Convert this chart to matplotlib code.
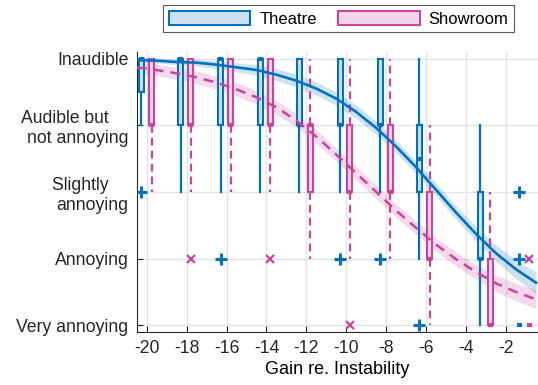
import matplotlib.pyplot as plt
from matplotlib.patches import Patch

plt.rcParams['font.family'] = ['Liberation Sans', 'DejaVu Sans']
plt.rcParams['axes.unicode_minus'] = False

# rating scale (5 = inaudible ... 1 = very annoying)
levels = [5, 4, 3, 2, 1]
level_labels = ['Inaudible', 'Audible but    \nnot annoying', 'Slightly    \nannoying',
                'Annoying', 'Very annoying']
gain_ticks = [-20, -18, -16, -14, -12, -10, -8, -6, -4, -2]

# boxplot summaries, theatre
theatre_pos = [-20.27, -18.3, -16.3, -14.3, -12.35, -10.3, -8.3, -6.35, -3.3, -1.35]
theatre_q1 = [4.5, 4, 4, 4, 4, 4, 4, 3, 2, 1]
theatre_med = [5, 5, 5, 5, 4, 4, 4, 3.5, 2, 1]
theatre_q3 = [5, 5, 5, 5, 5, 5, 5, 4, 3, 1]
theatre_lo = [4, 3, 3, 3, 3, 3, 3, 2, 1, 1]
theatre_hi = [5, 5, 5, 5, 5, 5, 5, 5, 4, 1]
theatre_out = [[3], [], [2], [], [], [2], [2], [1], [], [3, 2]]

# boxplot summaries, showroom
showroom_pos = [-19.75, -17.8, -15.8, -13.8, -11.8, -9.83, -7.8, -5.83, -2.8, -0.83]
showroom_q1 = [4, 4, 4, 4, 3, 3, 3, 2, 1, 1]
showroom_med = [4, 4, 4, 4, 4, 3, 3, 2, 1, 1]
showroom_q3 = [5, 5, 5, 5, 4, 4, 4, 3, 2, 1]
showroom_lo = [3, 3, 3, 3, 2, 2, 2, 1, 1, 1]
showroom_hi = [5, 5, 5, 5, 5, 5, 5, 4, 3, 1]
showroom_out = [[], [2], [], [2], [], [1], [], [], [], [2]]

# fitted curves with confidence band half-widths
fit_x = [-20.5, -19.5, -18.5, -17.5, -16.5, -15.5, -14.5, -13.5, -12.5, -11.5, -10.5,
         -9.5, -8.5, -7.5, -6.5, -5.5, -4.5, -3.5, -2.5, -1.5, -0.5]
theatre_fit = [4.98, 4.97, 4.95, 4.94, 4.91, 4.87, 4.83, 4.76, 4.67, 4.55, 4.40,
               4.20, 3.96, 3.68, 3.37, 3.03, 2.69, 2.37, 2.08, 1.84, 1.64]
theatre_ci = [0.03, 0.035, 0.04, 0.05, 0.06, 0.07, 0.08, 0.09, 0.095, 0.1, 0.1,
              0.1, 0.1, 0.095, 0.095, 0.095, 0.1, 0.11, 0.12, 0.14, 0.16]
showroom_fit = [4.87, 4.83, 4.78, 4.72, 4.64, 4.54, 4.42, 4.27, 4.07, 3.83, 3.56,
                3.28, 3.00, 2.72, 2.46, 2.21, 1.99, 1.80, 1.63, 1.50, 1.39]
showroom_ci = [0.08, 0.085, 0.09, 0.095, 0.1, 0.1, 0.1, 0.1, 0.1, 0.1, 0.1,
               0.1, 0.1, 0.1, 0.1, 0.1, 0.105, 0.11, 0.12, 0.13, 0.14]

blue = '#0072BD'
blue_light = '#CCE1F1'
pink = '#C9449C'
pink_light = '#F1D5E8'


def box_stats(q1, med, q3, lo, hi, out):
    return [dict(q1=a, med=b, q3=c, whislo=d, whishi=e, fliers=f)
            for a, b, c, d, e, f in zip(q1, med, q3, lo, hi, out)]


fig = plt.figure(figsize=(5.38, 3.85), dpi=100)
ax = fig.add_axes([136.7 / 538, 1 - 332 / 385, 1 - 136.7 / 538, 280 / 385])

# confidence bands
ax.fill_between(fit_x, [f - c for f, c in zip(theatre_fit, theatre_ci)],
                [f + c for f, c in zip(theatre_fit, theatre_ci)],
                color=blue, alpha=0.2, lw=0, zorder=1)
ax.fill_between(fit_x, [f - c for f, c in zip(showroom_fit, showroom_ci)],
                [f + c for f, c in zip(showroom_fit, showroom_ci)],
                color=pink, alpha=0.2, lw=0, zorder=1)

# boxes
for pos, stats, col, light, ls, mk, ms, mew in [
        (theatre_pos, box_stats(theatre_q1, theatre_med, theatre_q3, theatre_lo,
                                theatre_hi, theatre_out), blue, blue_light, '-', '+', 8.5, 2.2),
        (showroom_pos, box_stats(showroom_q1, showroom_med, showroom_q3, showroom_lo,
                                 showroom_hi, showroom_out), pink, pink_light,
         (0, (3.5, 2.3)), 'x', 6, 1.6)]:
    ax.bxp(stats, positions=pos, widths=0.25, patch_artist=True, showcaps=False,
           manage_ticks=False, zorder=3,
           boxprops=dict(facecolor=light, edgecolor=col, lw=1.5),
           medianprops=dict(color=col, lw=3, solid_capstyle='butt'),
           whiskerprops=dict(color=col, lw=1.6, ls=ls),
           flierprops=dict(marker=mk, markeredgecolor=col, markersize=ms,
                           markeredgewidth=mew, ls='none'))

# fitted curves
ax.plot(fit_x, theatre_fit, color=blue, lw=1.9, zorder=4)
ax.plot(fit_x, showroom_fit, color=pink, lw=1.8, ls=(0, (4, 2.8)), zorder=4)

ax.set_xlim(-20.5, -0.4)
ax.set_ylim(0.9, 5.1)
ax.set_xticks(gain_ticks)
ax.set_yticks(levels)
ax.set_yticklabels(level_labels, fontsize=12.7, multialignment='right')
ax.tick_params(axis='x', labelsize=12.7, pad=5)
ax.tick_params(direction='in', length=4, width=0.8, colors='#262626', pad=6)
ax.set_xlabel('Gain re. Instability', fontsize=13, labelpad=3)
ax.grid(True, color='#E3E3E3', lw=1)
ax.set_axisbelow(True)
for s in ['top', 'right']:
    ax.spines[s].set_visible(False)
for s in ['left', 'bottom']:
    ax.spines[s].set_color('#262626')
    ax.spines[s].set_linewidth(0.8)

handles = [Patch(facecolor=blue_light, edgecolor=blue, lw=1.5, label='Theatre'),
           Patch(facecolor=pink_light, edgecolor=pink, lw=1.5, label='Showroom')]
leg = fig.legend(handles=handles, loc='upper right', bbox_to_anchor=(514 / 538, 1 - 5 / 385),
                 ncol=2, fontsize=12, fancybox=False, framealpha=1, edgecolor='#5A5A5A',
                 handlelength=4.9, handleheight=1.0, columnspacing=1.26,
                 borderpad=0.33, borderaxespad=0, handletextpad=0.54)
leg.get_frame().set_linewidth(0.8)

fig.savefig('out.png', dpi=100)
